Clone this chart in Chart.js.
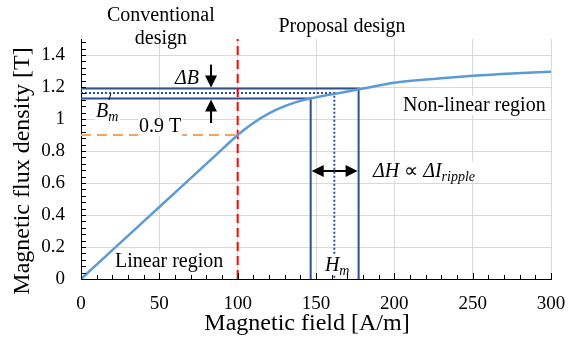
<!DOCTYPE html>
<html>
<head>
<meta charset="utf-8">
<script src="https://cdn.jsdelivr.net/npm/chart.js@4.4.1/dist/chart.umd.min.js"></script>
<style>
html,body{margin:0;padding:0;background:#fff}
#wrap{width:572px;height:342px}
</style>
</head>
<body>
<div id="wrap"><canvas id="bhChart"></canvas></div>
<script>
// B-H curve
const fieldH=[0,20,40,60,80,90,100,110,120,130,140,150,160,170,180,200,225,250,275,300]
const fluxB=[0,0.18,0.36,0.54,0.72,0.81,0.9,0.975,1.035,1.08,1.113,1.135,1.154,1.172,1.19,1.226,1.25,1.27,1.285,1.296]

// ripple operating points: low, Hm, high
const rippleH=[146.6,161.7,177.2]
const rippleB=[1.128,1.162,1.19]

// design boundary and 0.9 T level
const boundaryH=100
const kneeB=0.9

const xTickValues=[0,50,100,150,200,250,300]
const yTickValues=[0,0.2,0.4,0.6,0.8,1,1.2,1.4]

const serif="'Liberation Serif','Times New Roman',serif"
const blue="#5B9BD5"
const navy="#2F528F"

const corner=(i)=>[{x:0,y:rippleB[i]},{x:rippleH[i],y:rippleB[i]},{x:rippleH[i],y:0}]

/* minor ticks drawn inside the axes */
const innerTicks={
id:"innerTicks",
afterDraw(chart){
const {ctx,chartArea:a,scales:{x,y}}=chart
ctx.save()
ctx.strokeStyle="#000"
ctx.lineWidth=1
ctx.beginPath()
for(let v=0;v<=300;v+=10){
const px=Math.round(x.getPixelForValue(v))+0.5
const len=v%50===0?6:4
ctx.moveTo(px,a.bottom)
ctx.lineTo(px,a.bottom-len)
}
for(let i=0;i<=37;i++){
const py=Math.round(y.getPixelForValue(i*0.04))+0.5
ctx.moveTo(a.left,py)
ctx.lineTo(a.left+5,py)
}
ctx.stroke()
ctx.restore()
}
}

/* texts and arrows */
function rich(ctx,parts,x,y,bg){
let w=0
parts.forEach(p=>{ctx.font=p.f;w+=ctx.measureText(p.t).width})
if(bg){
ctx.fillStyle="#fff"
ctx.fillRect(x-1,y-15,w+2,19)
}
ctx.fillStyle="#000"
ctx.textBaseline="alphabetic"
ctx.textAlign="left"
let cx=x
parts.forEach(p=>{
ctx.font=p.f
ctx.fillText(p.t,cx,y+(p.dy||0))
cx+=ctx.measureText(p.t).width
})
}

function arrow(ctx,x1,y1,x2,y2){
const ang=Math.atan2(y2-y1,x2-x1)
const hl=12,hw=6
ctx.beginPath()
ctx.moveTo(x1,y1)
ctx.lineTo(x2-Math.cos(ang)*hl*0.8,y2-Math.sin(ang)*hl*0.8)
ctx.stroke()
ctx.beginPath()
ctx.moveTo(x2,y2)
ctx.lineTo(x2-Math.cos(ang)*hl-Math.sin(ang)*hw,y2-Math.sin(ang)*hl+Math.cos(ang)*hw)
ctx.lineTo(x2-Math.cos(ang)*hl+Math.sin(ang)*hw,y2-Math.sin(ang)*hl-Math.cos(ang)*hw)
ctx.closePath()
ctx.fill()
}

const notes={
id:"notes",
afterDatasetsDraw(chart){
const {ctx,scales:{x,y}}=chart
const X=v=>x.getPixelForValue(v)
const Y=v=>y.getPixelForValue(v)
const reg="20px "+serif
const it="italic 20px "+serif
const sub="italic 14px "+serif
ctx.save()

ctx.font=reg
ctx.fillStyle="#000"
ctx.textAlign="center"
ctx.fillText("Conventional",X(51),Y(1.612))
ctx.fillText("design",X(51),Y(1.47))
ctx.fillText("Proposal design",X(166.6),Y(1.544))

rich(ctx,[{t:"ΔB",f:it}],X(60),Y(1.219),false)
rich(ctx,[{t:"B",f:it},{t:"m",f:sub,dy:4}],X(9.6),Y(1.0125),true)
rich(ctx,[{t:"0.9 T",f:reg}],X(37),Y(0.916),true)
rich(ctx,[{t:"Non-linear region",f:reg}],X(205.5),Y(1.05),true)
rich(ctx,[{t:"ΔH",f:it},{t:" ∝ ",f:reg},{t:"ΔI",f:it},{t:"ripple",f:sub,dy:4}],X(186.4),Y(0.64),true)
rich(ctx,[{t:"H",f:it},{t:"m",f:sub,dy:4}],X(155.7),Y(0.053),true)
rich(ctx,[{t:"Linear region",f:reg}],X(21.7),Y(0.078),true)

ctx.strokeStyle="#000"
ctx.fillStyle="#000"
ctx.lineWidth=2
arrow(ctx,X(83),Y(1.34),X(83),Y(rippleB[2])-1)
arrow(ctx,X(83),Y(0.975),X(83),Y(rippleB[0])+1)
arrow(ctx,X(rippleH[1]),Y(0.675),X(rippleH[0])+1,Y(0.675))
arrow(ctx,X(rippleH[1]),Y(0.675),X(rippleH[2])-1,Y(0.675))

ctx.lineWidth=1
ctx.beginPath()
ctx.moveTo(X(19.1),Y(1.16))
ctx.lineTo(X(17.9),Y(1.12))
ctx.stroke()
ctx.restore()
}
}

const ctx=document.getElementById("bhChart")

new Chart(ctx,{
type:"scatter",
data:{
datasets:[
{
data:fieldH.map((h,i)=>({x:h,y:fluxB[i]})),
borderColor:blue,
borderWidth:2.5,
showLine:true,
pointRadius:0,
cubicInterpolationMode:"monotone",
order:0
},
{
data:[{x:boundaryH,y:0},{x:boundaryH,y:1.5}],
borderColor:"#FF0000",
borderWidth:2,
borderDash:[9,5],
showLine:true,
pointRadius:0,
order:1
},
{
data:[{x:0,y:kneeB},{x:boundaryH,y:kneeB}],
borderColor:"#F4A460",
borderWidth:2,
borderDash:[10,6],
showLine:true,
pointRadius:0,
order:2
},
{
data:corner(2),
borderColor:navy,
borderWidth:2,
showLine:true,
pointRadius:0,
order:3
},
{
data:corner(0),
borderColor:navy,
borderWidth:2,
showLine:true,
pointRadius:0,
order:3
},
{
data:corner(1),
borderColor:navy,
borderWidth:2,
borderDash:[2,2],
showLine:true,
pointRadius:0,
order:3
}
]
},
options:{
responsive:true,
maintainAspectRatio:false,
animation:false,
layout:{padding:{top:39,right:21,left:0,bottom:0}},
plugins:{
legend:{display:false},
tooltip:{enabled:false}
},
scales:{
x:{
type:"linear",
min:0,
max:300,
afterBuildTicks:s=>{s.ticks=xTickValues.map(v=>({value:v}))},
afterFit:s=>{s.height=63;s.paddingLeft=0;s.paddingRight=0},
grid:{color:"#D9D9D9",drawTicks:false},
border:{color:"#000",width:1},
ticks:{color:"#000",padding:14,font:{family:serif,size:19},maxRotation:0},
title:{display:true,text:"Magnetic field [A/m]   ",color:"#000",font:{family:serif,size:24},padding:{top:0,bottom:4}}
},
y:{
type:"linear",
min:0,
max:1.5,
afterBuildTicks:s=>{s.ticks=yTickValues.map(v=>({value:v}))},
afterFit:s=>{s.width=81;s.paddingTop=0;s.paddingBottom=0},
grid:{color:"#D9D9D9",drawTicks:false},
border:{color:"#000",width:1},
ticks:{color:"#000",padding:16,font:{family:serif,size:19},callback:v=>String(Number(v.toFixed(1)))},
title:{display:true,text:"Magnetic flux density [T]    ",color:"#000",font:{family:serif,size:24},padding:{top:8,bottom:0}}
}
}
},
plugins:[innerTicks,notes]
})
</script>
</body>
</html>
